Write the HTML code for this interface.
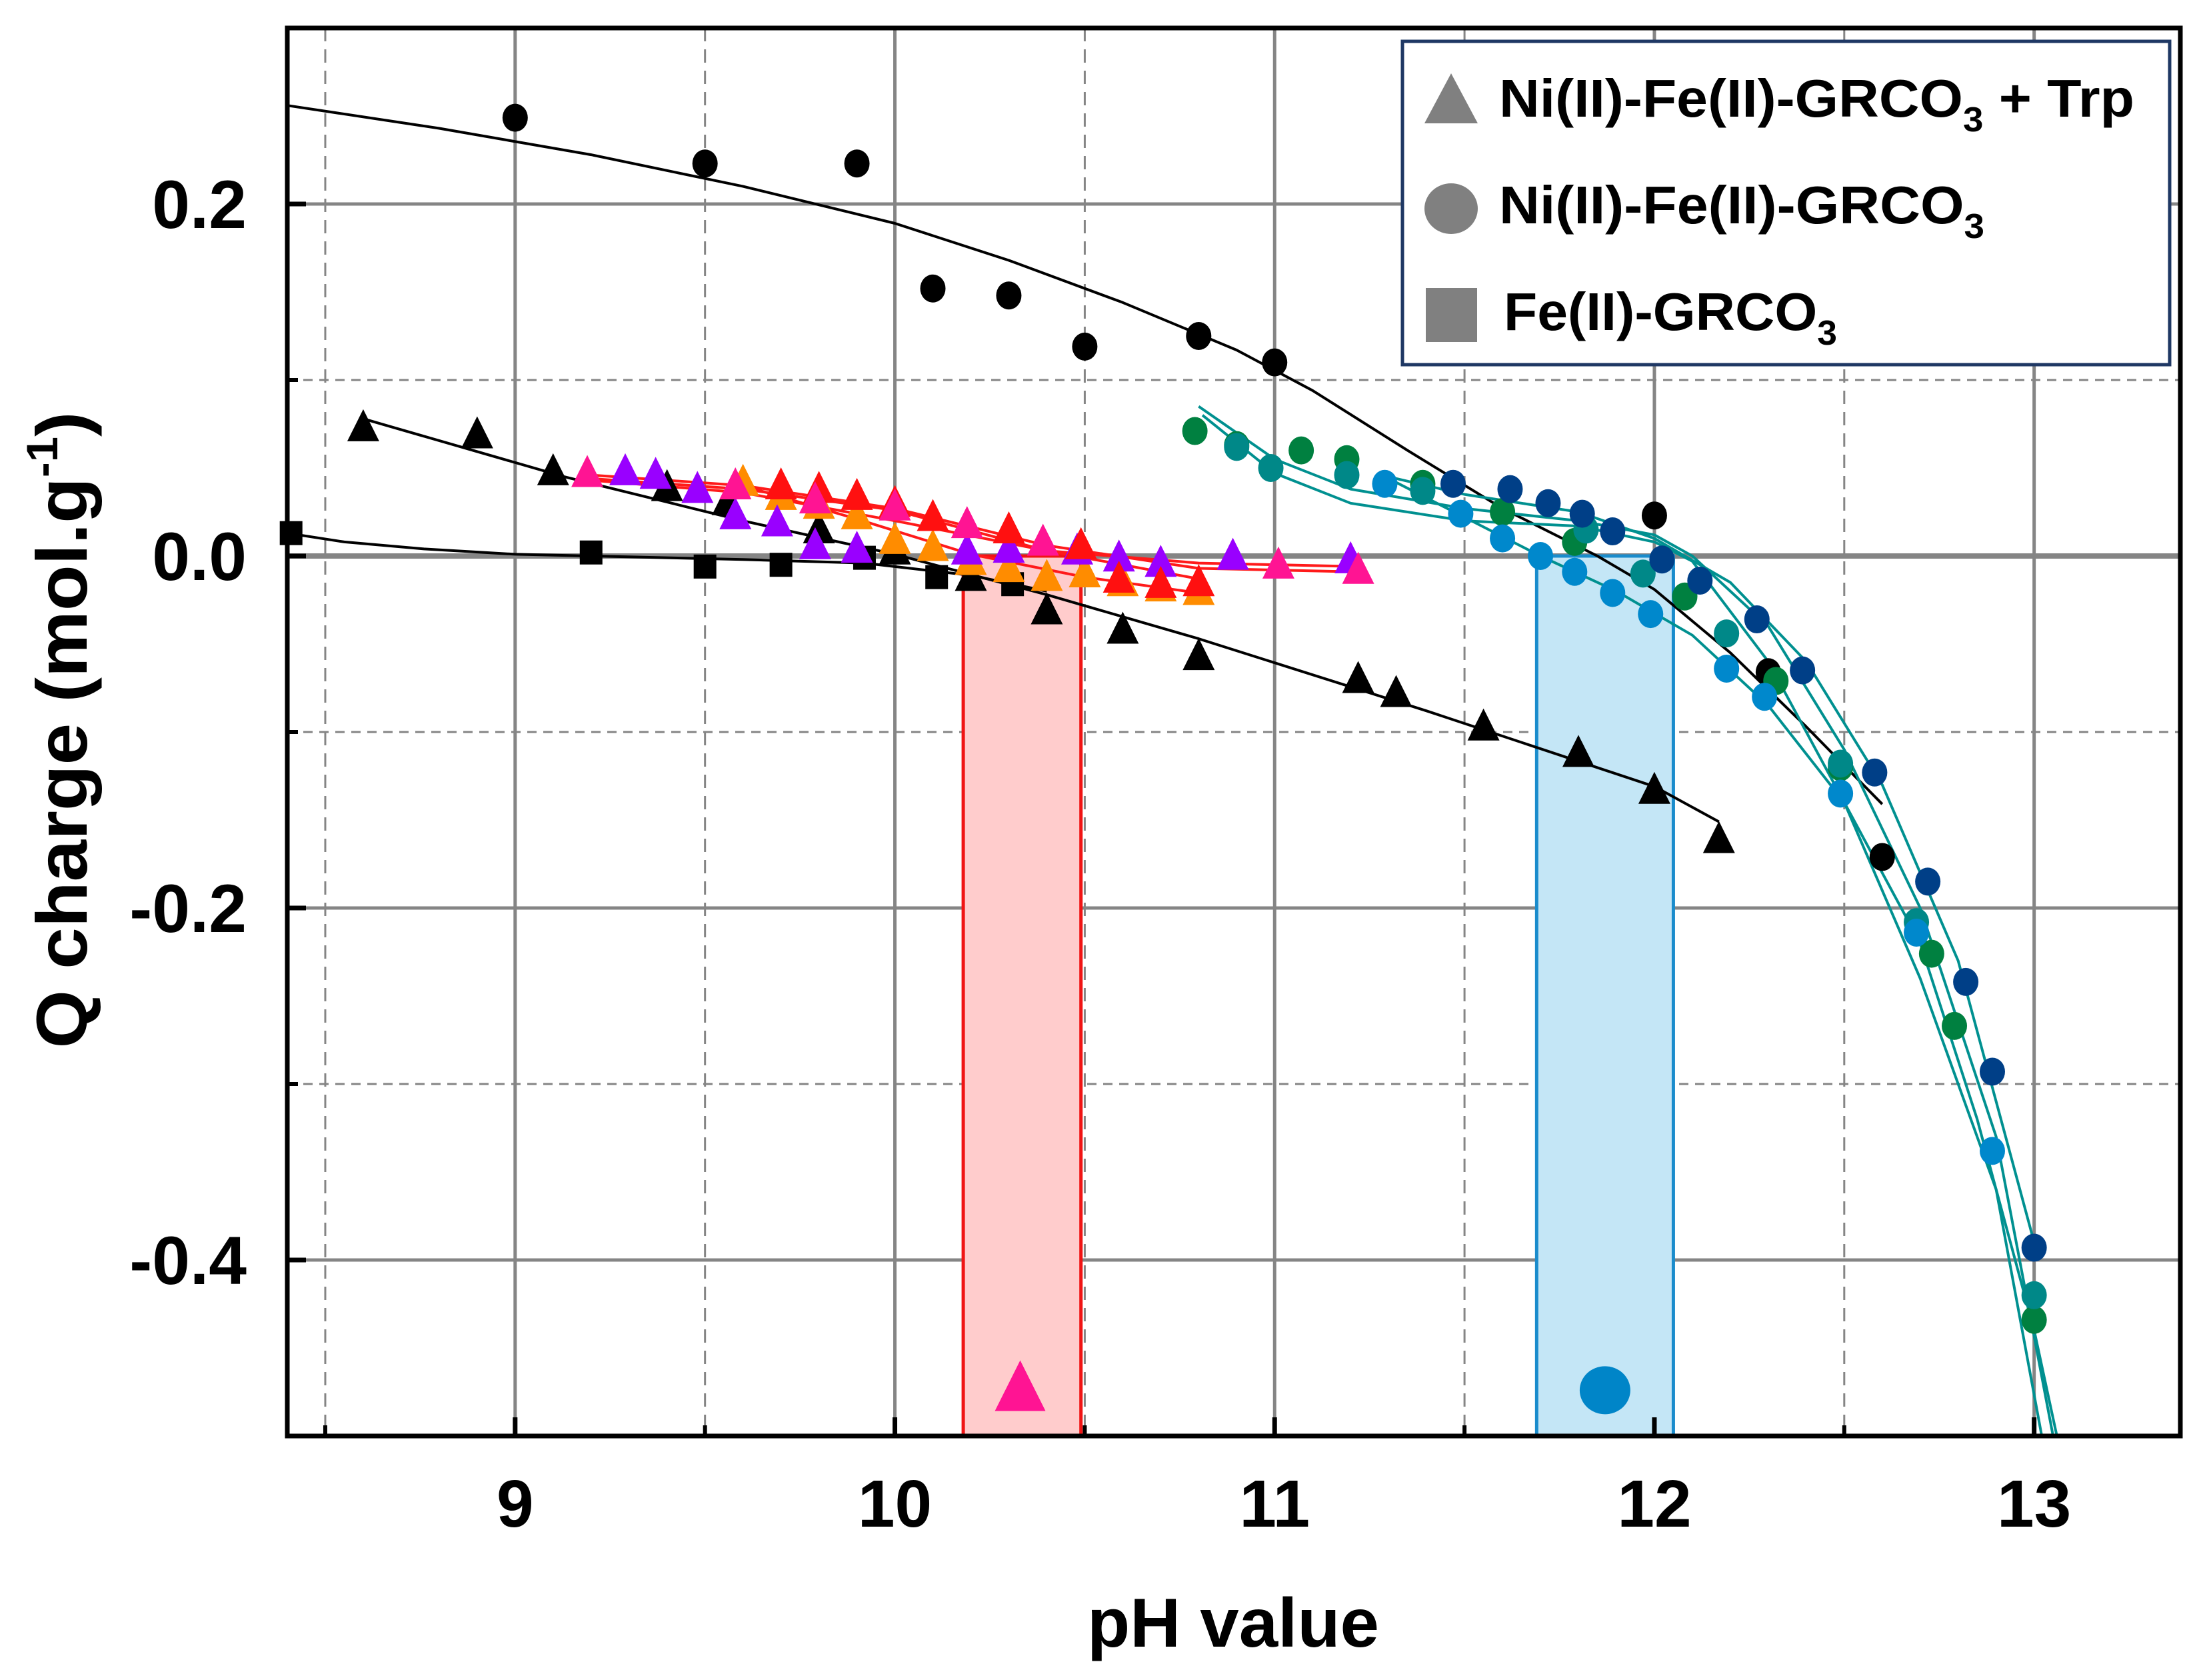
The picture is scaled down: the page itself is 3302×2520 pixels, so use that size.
<!DOCTYPE html>
<html><head><meta charset="utf-8"><style>
html,body{margin:0;padding:0;background:#fff;}
svg{display:block;font-family:"Liberation Sans",sans-serif;font-weight:bold;}
</style></head><body>
<svg id="chart" width="3302" height="2520" viewBox="0 0 3302 2520" xmlns="http://www.w3.org/2000/svg">
<g id="grid"></g>
<g id="bands"></g>
<g id="lines"></g>
<g id="marks"></g>
<g id="axes"></g>
<text x="1850" y="2470" font-size="104" text-anchor="middle" textLength="438" lengthAdjust="spacingAndGlyphs">pH value</text>
<text transform="translate(130,1095) rotate(-90)" font-size="108" text-anchor="middle" textLength="955" lengthAdjust="spacingAndGlyphs">Q charge (mol.g<tspan font-size="66" dy="-44">-1</tspan><tspan dy="44">)</tspan></text>
<g>
<rect x="2104" y="62" width="1151" height="485" fill="#fff" stroke="#1f3864" stroke-width="5"/>
<polygon points="2177,110 2217,185 2137,185" fill="#808080"/>
<text x="2249" y="175" font-size="80" textLength="953" lengthAdjust="spacingAndGlyphs">Ni(II)-Fe(II)-GRCO<tspan font-size="52" dy="22">3</tspan><tspan dy="-22"> + Trp</tspan></text>
<ellipse cx="2177" cy="313" rx="40" ry="38" fill="#808080"/>
<text x="2249" y="335" font-size="80" textLength="728" lengthAdjust="spacingAndGlyphs">Ni(II)-Fe(II)-GRCO<tspan font-size="52" dy="22">3</tspan></text>
<rect x="2139" y="432" width="77" height="81" fill="#808080"/>
<text x="2256" y="495" font-size="80" textLength="500" lengthAdjust="spacingAndGlyphs">Fe(II)-GRCO<tspan font-size="52" dy="22">3</tspan></text>
</g>
</svg>
<script>
const xTicks=[9,10,11,12,13];
const xTickLabels=['9','10','11','12','13'];
const xMinor=[8.5,9.5,10.5,11.5,12.5];
const yTicks=[0.2,0.0,-0.2,-0.4];
const yTickLabels=['0.2','0.0','-0.2','-0.4'];
const yMinor=[0.1,-0.1,-0.3];

const circX=[9,9.5,9.9,10.1,10.3,10.5,10.8,11.0,12.0,12.3,12.6];
const circY=[0.249,0.223,0.223,0.152,0.148,0.119,0.125,0.110,0.023,-0.066,-0.171];
const circFitX=[8.4,8.8,9.2,9.6,10.0,10.3,10.6,10.9,11.1,11.35,11.6,11.85,12.0,12.2,12.4,12.6];
const circFitY=[0.256,0.243,0.228,0.210,0.189,0.168,0.144,0.117,0.094,0.060,0.027,0.000,-0.019,-0.055,-0.097,-0.141];

const triX=[8.6,8.9,9.1,9.4,9.56,9.8,10.0,10.2,10.4,10.6,10.8,11.22,11.32,11.55,11.8,12.0,12.17];
const triY=[0.072,0.068,0.047,0.038,0.030,0.014,0.002,-0.013,-0.032,-0.043,-0.058,-0.071,-0.079,-0.098,-0.113,-0.134,-0.162];
const triFitX=[8.6,9.13,9.6,10.0,10.4,10.8,11.4,12.0,12.17];
const triFitY=[0.078,0.045,0.020,0.001,-0.022,-0.047,-0.088,-0.131,-0.151];

const sqX=[8.41,9.2,9.5,9.7,9.92,10.11,10.31];
const sqY=[0.013,0.002,-0.006,-0.005,-0.001,-0.012,-0.016];
const sqFitX=[8.4,8.55,8.76,9.0,9.2,9.6,9.92,10.2,10.4];
const sqFitY=[0.013,0.008,0.004,0.001,0.0,-0.002,-0.004,-0.011,-0.020];

const pinkX=[9.19,9.58,9.79,10.0,10.19,10.39,11.01,11.22];
const pinkY=[0.046,0.039,0.031,0.027,0.017,0.007,-0.006,-0.009];
const purpleX=[9.29,9.37,9.48,9.58,9.69,9.79,9.9,10.19,10.3,10.48,10.59,10.7,10.89,11.2];
const purpleY=[0.047,0.045,0.037,0.022,0.018,0.005,0.003,0.002,0.003,0.002,-0.002,-0.005,-0.001,-0.003];
const redX=[9.7,9.8,9.9,10.0,10.1,10.3,10.49,10.59,10.7,10.8];
const redY=[0.039,0.037,0.033,0.029,0.021,0.014,0.005,-0.014,-0.017,-0.016];
const orangeX=[9.6,9.7,9.8,9.9,10.0,10.1,10.2,10.3,10.4,10.5,10.6,10.7,10.8];
const orangeY=[0.041,0.033,0.028,0.022,0.008,0.004,-0.004,-0.008,-0.013,-0.011,-0.016,-0.019,-0.021];
const redFit1X=[9.2,9.6,10.0,10.4,10.8,11.22];
const redFit1Y=[0.043,0.036,0.020,0.003,-0.004,-0.006];
const redFit2X=[9.2,9.6,10.0,10.4,10.8,11.22];
const redFit2Y=[0.046,0.040,0.027,0.006,-0.007,-0.009];
const redFit3X=[9.2,9.6,10.0,10.4,10.8];
const redFit3Y=[0.044,0.038,0.026,0.003,-0.013];
const redFit4X=[9.6,9.9,10.2,10.5,10.8];
const redFit4Y=[0.040,0.021,0.001,-0.012,-0.021];

const greenX=[10.79,10.9,11.07,11.19,11.39,11.6,11.79,12.08,12.32,12.49,12.73,12.79,13.0];
const greenY=[0.071,0.063,0.060,0.055,0.041,0.025,0.008,-0.023,-0.071,-0.120,-0.226,-0.267,-0.434];
const tealX=[10.9,10.99,11.19,11.39,11.82,11.97,12.19,12.49,12.69,13.0];
const tealY=[0.062,0.050,0.046,0.037,0.015,-0.010,-0.044,-0.118,-0.208,-0.420];
const lblueX=[11.29,11.49,11.6,11.7,11.79,11.89,11.99,12.19,12.29,12.49,12.69,12.89];
const lblueY=[0.041,0.024,0.010,0.000,-0.009,-0.021,-0.033,-0.064,-0.080,-0.135,-0.214,-0.338];
const dblueX=[11.47,11.62,11.72,11.81,11.89,12.02,12.12,12.27,12.39,12.58,12.72,12.82,12.89,13.0];
const dblueY=[0.041,0.038,0.030,0.024,0.014,-0.002,-0.014,-0.036,-0.065,-0.123,-0.185,-0.242,-0.293,-0.393];
const tealFit1X=[10.8,11.0,11.2,11.5,11.8,12.0,12.1,12.3,12.5,12.7,12.9,13.05];
const tealFit1Y=[0.085,0.055,0.038,0.027,0.020,0.012,0.0,-0.040,-0.110,-0.200,-0.330,-0.500];
const tealFit2X=[10.81,11.0,11.2,11.5,11.8,12.0,12.1,12.3,12.5,12.7,12.9,13.02];
const tealFit2Y=[0.080,0.047,0.030,0.020,0.017,0.008,-0.003,-0.060,-0.140,-0.240,-0.360,-0.500];
const tealFit3X=[11.3,11.5,11.7,11.9,12.1,12.3,12.5,12.7,12.85,13.0,13.06];
const tealFit3Y=[0.044,0.022,0.0,-0.020,-0.045,-0.085,-0.140,-0.220,-0.320,-0.440,-0.500];
const tealFit4X=[11.3,11.5,11.8,12.0,12.2,12.4,12.6,12.8,13.0];
const tealFit4Y=[0.045,0.035,0.025,0.010,-0.015,-0.060,-0.130,-0.230,-0.390];

const bandRedX=[10.18,10.49];
const bandBlueX=[11.69,12.05];
const bandTop=[0.0,-0.5];
const refTriX=[10.33], refTriY=[-0.475];
const refCircX=[11.87], refCircY=[-0.474];

const X0=431,X1=3271,Y0=42,Y1=2154;
const xMin=8.4,xMax=13.385,yMin=-0.5,yMax=0.3;
const sx=v=>X0+(v-xMin)/(xMax-xMin)*(X1-X0);
const sy=v=>Y0+(yMax-v)/(yMax-yMin)*(Y1-Y0);
const NS='http://www.w3.org/2000/svg';
function mk(tag,parent,attrs){const e=document.createElementNS(NS,tag);for(const k in attrs)e.setAttribute(k,attrs[k]);document.getElementById(parent).appendChild(e);return e;}

xTicks.forEach(v=>{const e=mk('line','grid',{x1:sx(v),x2:sx(v),y1:Y0,y2:Y1,stroke:'#858585','stroke-width':5});

});
xMinor.forEach(v=>{const e=mk('line','grid',{x1:sx(v),x2:sx(v),y1:Y0,y2:Y1,stroke:'#858585','stroke-width':3,'stroke-dasharray':'20,12'});

});
yTicks.forEach(v=>{const e=mk('line','grid',{x1:X0,x2:X1,y1:sy(v),y2:sy(v),stroke:'#858585','stroke-width':v===0?8:5});

});
yMinor.forEach(v=>{const e=mk('line','grid',{x1:X0,x2:X1,y1:sy(v),y2:sy(v),stroke:'#858585','stroke-width':3,'stroke-dasharray':'14,10'});

});

function band(xs,fill,stroke,name){const e=mk('rect','bands',{x:sx(xs[0]),y:sy(bandTop[0]),width:sx(xs[1])-sx(xs[0]),height:sy(bandTop[1])-sy(bandTop[0]),fill:fill,stroke:stroke,'stroke-width':5});

}
band(bandRedX,'#ffcccc','#f01414','red-highlight-band');
band(bandBlueX,'#c4e6f6','#1a8ccc','blue-highlight-band');

function line(xs,ys,color,w,name){const d=xs.map((v,i)=>(i?'L':'M')+sx(v).toFixed(1)+','+sy(ys[i]).toFixed(1)).join(' ');
const e=mk('path','lines',{d:d,fill:'none',stroke:color,'stroke-width':w,'stroke-linejoin':'round'});

}
line(circFitX,circFitY,'#000',4,'circle-fit-line');
line(triFitX,triFitY,'#000',4,'triangle-fit-line');
line(sqFitX,sqFitY,'#000',4,'square-fit-line');
[[redFit1X,redFit1Y],[redFit2X,redFit2Y],[redFit3X,redFit3Y],[redFit4X,redFit4Y]].forEach(p=>line(p[0],p[1],'#ff1a1a',4,'red-fit-line'));
[[tealFit1X,tealFit1Y],[tealFit2X,tealFit2Y],[tealFit3X,tealFit3Y],[tealFit4X,tealFit4Y]].forEach(p=>line(p[0],p[1],'#009090',4,'teal-fit-line'));

function circles(xs,ys,color,name,rx,ry){xs.forEach((v,i)=>{const e=mk('ellipse','marks',{cx:sx(v),cy:sy(ys[i]),rx:rx||19,ry:ry||21,fill:color});

});}
function tris(xs,ys,color,name,s){s=s||24;xs.forEach((v,i)=>{const x=sx(v),y=sy(ys[i]);
const e=mk('polygon','marks',{points:`${x},${y-s*1.25} ${x+s},${y+s*0.75} ${x-s},${y+s*0.75}`,fill:color});

});}
function squares(xs,ys,color,name){xs.forEach((v,i)=>{const e=mk('rect','marks',{x:sx(v)-17,y:sy(ys[i])-18,width:34,height:36,fill:color});

});}
squares(sqX,sqY,'#000','fe-grco3-point');
tris(triX,triY,'#000','ni-fe-trp-point');
tris(orangeX,orangeY,'#ff8c00','orange-triangle-point');
tris(purpleX,purpleY,'#9900ff','purple-triangle-point');
tris(redX,redY,'#ff1010','red-triangle-point');
tris(pinkX,pinkY,'#ff1493','pink-triangle-point');
circles(circX,circY,'#000','ni-fe-grco3-point');
circles(greenX,greenY,'#008040','green-circle-point');
circles(tealX,tealY,'#008888','teal-circle-point');
circles(lblueX,lblueY,'#0088cc','lightblue-circle-point');
circles(dblueX,dblueY,'#003f87','darkblue-circle-point');
tris(refTriX,refTriY,'#ff1493','reference-triangle',38);
circles(refCircX,refCircY,'#0085c8','reference-circle',38,36);

const fr=mk('rect','axes',{x:X0,y:Y0,width:X1-X0,height:Y1-Y0,fill:'none',stroke:'#000','stroke-width':7});


xTicks.forEach((v,i)=>{mk('line','axes',{x1:sx(v),x2:sx(v),y1:Y1,y2:Y1-28,stroke:'#000','stroke-width':7});
const t=mk('text','axes',{x:sx(v),y:2290,'font-size':100,'text-anchor':'middle'});t.textContent=xTickLabels[i];

});
xMinor.forEach(v=>mk('line','axes',{x1:sx(v),x2:sx(v),y1:Y1,y2:Y1-16,stroke:'#000','stroke-width':6}));
yTicks.forEach((v,i)=>{mk('line','axes',{x1:X0,x2:X0+28,y1:sy(v),y2:sy(v),stroke:'#000','stroke-width':7});
const t=mk('text','axes',{x:370,y:sy(v)+36,'font-size':102,'text-anchor':'end'});t.textContent=yTickLabels[i];

});
yMinor.forEach(v=>mk('line','axes',{x1:X0,x2:X0+16,y1:sy(v),y2:sy(v),stroke:'#000','stroke-width':6}));
</script>
</body></html>
